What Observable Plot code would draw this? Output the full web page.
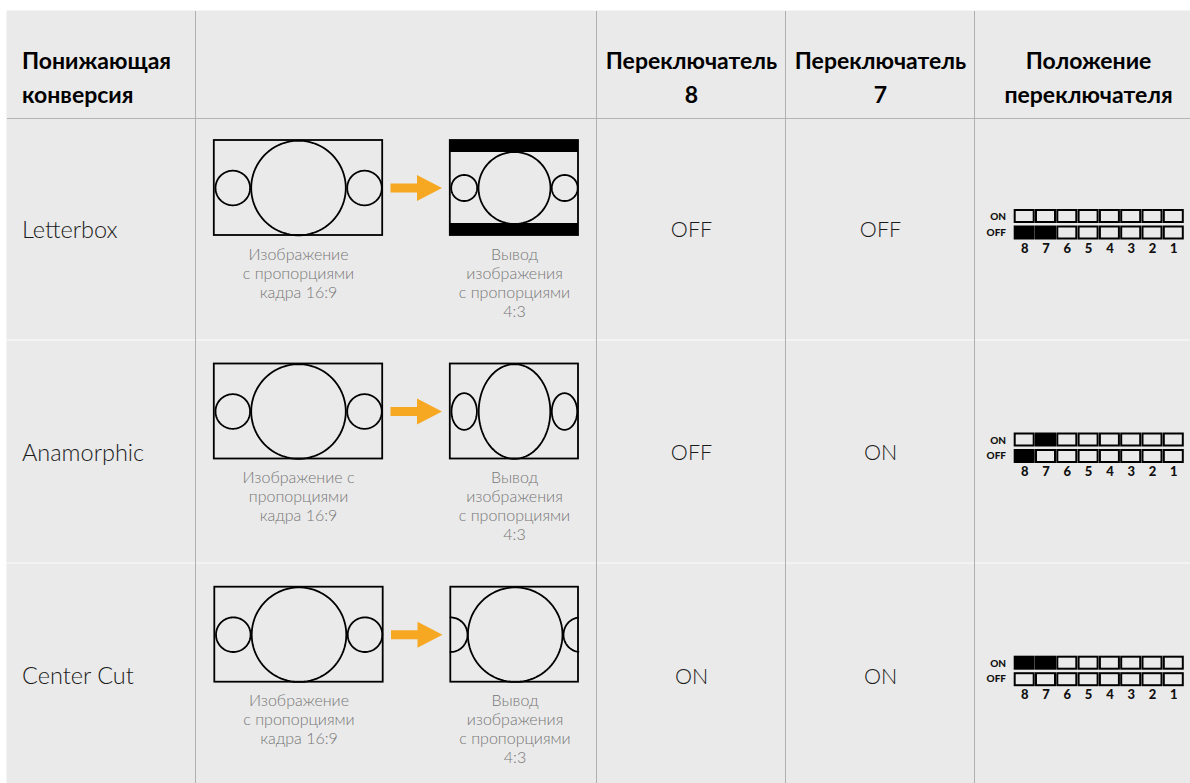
<!DOCTYPE html>
<html><head><meta charset="utf-8">
<script src="https://cdn.jsdelivr.net/npm/d3@7"></script>
<script src="https://cdn.jsdelivr.net/npm/@observablehq/plot@0.6"></script>
<style>html,body{margin:0;padding:0;background:#fff}svg{display:block}</style>
</head><body><div id="chart"></div>
<script>
// ---- table content
const headerLeft = ["Понижающая", "конверсия"];
const headerSwitch8 = ["Переключатель", "8"];
const headerSwitch7 = ["Переключатель", "7"];
const headerPosition = ["Положение", "переключателя"];
const conversions = ["Letterbox", "Anamorphic", "Center Cut"];
const switch8 = ["OFF", "OFF", "ON"];
const switch7 = ["OFF", "ON", "ON"];
const switchNumbers = [8, 7, 6, 5, 4, 3, 2, 1];
const sourceCaptions = [
  ["Изображение", "с пропорциями", "кадра 16:9"],
  ["Изображение с", "пропорциями", "кадра 16:9"],
  ["Изображение", "с пропорциями", "кадра 16:9"]
];
const outputCaption = ["Вывод", "изображения", "с пропорциями", "4:3"];

// ---- layout (page geometry, in the scales' domain units)
const W = 1190, H = 783;
const FONT = "Lato,'Open Sans','Noto Sans',sans-serif";
const rowTop = [140, 363.5, 586.7];       // top of the pictures in each row
const rowDx = [0, 0, 0.5];
const vLines = [195, 596, 785, 974];
const headerLine = 118;
const rowLines = [339.5, 562.5];
const col8 = 691, col7 = 880, colPos = 1088, colName = 21.5;

const texts = [], frames = [], bands = [], curves = [], arrows = [], cells = [], swText = [];
function ellipse(id, cx, cy, rx, ry, a0 = 0, a1 = 360) {
  d3.range(a0, a1 + 0.1, 4).forEach(a => curves.push({
    id, x: cx + rx * Math.cos(a * Math.PI / 180), y: cy + ry * Math.sin(a * Math.PI / 180)
  }));
}
const hdr = (lines, x, anchor) => lines.forEach((t, i) =>
  texts.push({t, x, y: [61, 95][i], anchor, size: 23, weight: 700, fill: "#000"}));
hdr(headerLeft, colName, "start");
hdr(headerSwitch8, col8, "middle");
hdr(headerSwitch7, col7, "middle");
hdr(headerPosition, colPos, "middle");

conversions.forEach((name, r) => {
  const top = rowTop[r], dx = rowDx[r], cy = top + 47.5, mid = top + 89.5;
  texts.push({t: name, x: colName, y: mid, anchor: "start", size: 23.5, weight: 300, fill: "#1a1a1a"});
  texts.push({t: switch8[r], x: col8, y: mid, anchor: "middle", size: 21.5, weight: 300, fill: "#1a1a1a"});
  texts.push({t: switch7[r], x: col7, y: mid, anchor: "middle", size: 21.5, weight: 300, fill: "#1a1a1a"});
  sourceCaptions[r].forEach((t, i) => texts.push({t, x: 298 + dx, y: top + 114 + 19 * i, anchor: "middle", size: 16, weight: 300, fill: "#777"}));
  outputCaption.forEach((t, i) => texts.push({t, x: 514 + dx, y: top + 114 + 19 * i, anchor: "middle", size: 16, weight: 300, fill: "#777"}));

  // source picture 16:9
  frames.push({x1: 213.8 + dx, x2: 382.2 + dx, y1: top, y2: top + 95});
  ellipse(`s${r}a`, 298 + dx, cy, 47.3, 47.3);
  ellipse(`s${r}b`, 232.3 + dx, cy, 17.3, 17.3);
  ellipse(`s${r}c`, 364 + dx, cy, 17.3, 17.3);
  // output picture 4:3
  frames.push({x1: 449.8 + dx, x2: 578, y1: top, y2: top + 95});
  if (name === "Letterbox") {
    bands.push({x1: 449.8, x2: 578, y1: top, y2: top + 12});
    bands.push({x1: 449.8, x2: 578, y1: top + 83, y2: top + 95});
    ellipse("o0a", 514, cy, 36, 36);
    ellipse("o0b", 463.7, cy, 13, 13);
    ellipse("o0c", 564.2, cy, 13, 13);
  } else if (name === "Anamorphic") {
    ellipse("o1a", 514, cy, 35.8, 47.3);
    ellipse("o1b", 463.7, cy, 12.7, 18.3);
    ellipse("o1c", 564, cy, 12.7, 18.3);
  } else {
    ellipse("o2a", 514.7, cy, 47.3, 47.3);
    ellipse("o2b", 450, cy, 17, 17.3, -90, 90);
    ellipse("o2c", 580, cy, 17, 17.3, 97, 263);
  }
  // arrow
  const ay = top + 47.5, ax = 390 + dx;
  [[0, -4.5], [26.5, -4.5], [26.5, -13], [51.5, 0], [26.5, 13], [26.5, 4.5], [0, 4.5], [0, -4.5]]
    .forEach(([px, py]) => arrows.push({id: r, x: ax + px, y: ay + py}));

  // DIP switches
  const onTop = top + 70, offTop = top + 86.5;
  switchNumbers.forEach((n, i) => {
    const x = 1014.7 + i * 21.3;
    const state = n === 8 ? switch8[r] : n === 7 ? switch7[r] : "OFF0";
    cells.push({x1: x, x2: x + 19, y1: onTop, y2: onTop + 12, fill: state === "ON" ? "#000" : "none"});
    cells.push({x1: x, x2: x + 19, y1: offTop, y2: offTop + 12, fill: state === "OFF" ? "#000" : "none"});
    swText.push({t: String(n), x: x + 9.5, y: offTop + 21.5, size: 13, anchor: "middle"});
  });
  swText.push({t: "ON", x: 1005.5, y: onTop + 6.5, size: 10, anchor: "end"});
  swText.push({t: "OFF", x: 1005.5, y: offTop + 5.5, size: 10, anchor: "end"});
});

const textMark = (rows, opts) => Plot.text(rows, {x: "x", y: "y", text: "t", lineAnchor: "middle", fontFamily: FONT, ...opts});

const chart = Plot.plot({
  width: W, height: H, margin: 0,
  style: {background: "#fff"},
  x: {domain: [0, W], range: [0, W], axis: null},
  y: {domain: [0, H], range: [0, H], axis: null},
  marks: [
    Plot.rect([0], {x1: () => 6.5, x2: () => W, y1: () => 10.5, y2: () => H, fill: "#eaeaea"}),
    Plot.ruleY(rowLines, {x1: 7, x2: W, stroke: "#f6f6f6", strokeWidth: 1.5}),
    Plot.ruleY([headerLine], {x1: 7, x2: W, stroke: "#b4b4b4", strokeWidth: 1}),
    Plot.ruleX(vLines, {y1: 11, y2: H, stroke: "#b0b0b0", strokeWidth: 1}),
    Plot.rect(bands, {x1: "x1", x2: "x2", y1: "y1", y2: "y2", fill: "#000"}),
    Plot.rect(frames, {x1: "x1", x2: "x2", y1: "y1", y2: "y2", stroke: "#000", strokeWidth: 1.8, fill: "none"}),
    Plot.line(curves, {x: "x", y: "y", z: "id", stroke: "#000", strokeWidth: 1.8, curve: "linear"}),
    Plot.line(arrows, {x: "x", y: "y", z: "id", stroke: null, fill: "#f7a823", curve: "linear"}),
    Plot.rect(cells, {x1: "x1", x2: "x2", y1: "y1", y2: "y2", fill: "fill", stroke: "#000", strokeWidth: 2}),
    ...["start", "middle"].flatMap(anchor => [
      [700, 300].map(w => textMark(texts.filter(d => d.anchor === anchor && d.weight === w), {
        textAnchor: anchor, fontWeight: w, fontSize: "size", fill: "fill"
      }))
    ].flat()),
    ...["middle", "end"].map(anchor => textMark(swText.filter(d => d.anchor === anchor), {
      textAnchor: anchor, fontWeight: 900, fontSize: "size", fill: "#111"
    }))
  ]
});
document.getElementById("chart").append(chart);
</script></body></html>
